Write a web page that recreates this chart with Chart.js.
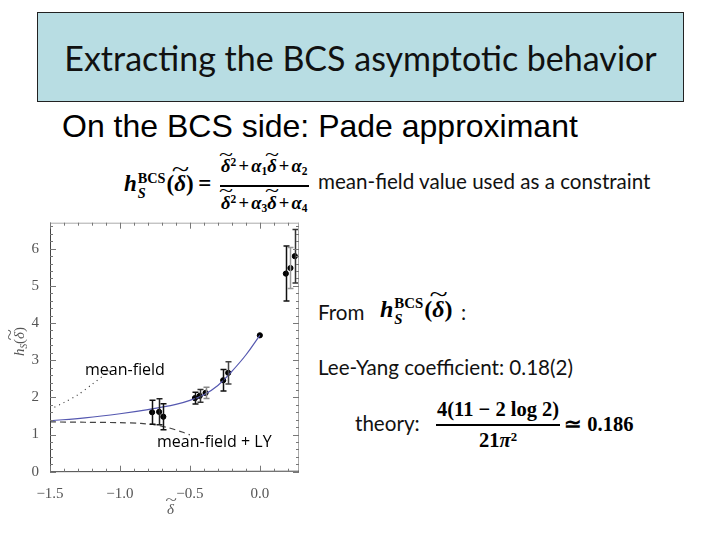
<!DOCTYPE html>
<html lang="en">
<head>
<meta charset="UTF-8">
<title>Extracting the BCS asymptotic behavior</title>
<script src="https://cdn.jsdelivr.net/npm/chart.js"></script>
<style>
  body { margin: 0; background: #fff; }
  .slide { position: relative; width: 720px; height: 540px; overflow: hidden; background: #fff; }
  .titlebox { position: absolute; left: 37px; top: 12px; width: 645px; height: 88px;
    background: #b8dde3; border: 1.5px solid #222; display: flex; align-items: center; justify-content: center;
    font-family: Lato, sans-serif; font-size: 34px; color: #111; }
  .sub { position: absolute; left: 62px; top: 108px; font-family: "Liberation Sans", Arial, sans-serif; font-size: 32px; color: #000; white-space: nowrap; }
  .txt { position: absolute; font-family: Lato, sans-serif; font-size: 20.6px; color: #111; line-height: 1; white-space: nowrap; }
  .lbl { position: absolute; font-family: "Open Sans", sans-serif; font-size: 16px; color: #000; line-height: 1; white-space: nowrap; }
  .m { font-family: "Liberation Serif", serif; font-weight: bold; color: #000; white-space: nowrap; line-height: 1; }
  .m i { font-style: italic; }
  .eq { position: absolute; display: flex; align-items: center; }
  .frac { display: inline-flex; flex-direction: column; align-items: center; margin: 0 4px; }
  .frac .num { border-bottom: 2px solid #000; padding: 0 1px 7px; }
  .frac .den { padding: 7px 1px 0; }
  .op { margin: 0 0.12em; }
  .td { position: relative; display: inline-block; font-style: italic; }
  .td .tl { position: absolute; left: 0; right: 0; top: -0.62em; text-align: center; font-style: normal; font-weight: normal; transform: scaleX(1.4); }
  .ss { display: inline-flex; flex-direction: column; font-size: 62%; line-height: 1.05; vertical-align: middle; margin: 0 1px; }
  .ss .dn { font-style: italic; }
  .sb { font-size: 62%; vertical-align: -0.3em; }
  .sp { font-size: 62%; vertical-align: 0.5em; }
  #chartWrap { position: absolute; left: 0; top: 0; width: 720px; height: 540px; }
  .axt { position: absolute; font-family: "Liberation Serif", serif; color: #555; font-size: 15px; white-space: nowrap; line-height: 1; }
</style>
</head>
<body>
<div class="slide">
  <div class="titlebox">Extracting the BCS asymptotic behavior</div>
  <div class="sub">On the BCS side: Pade approximant</div>

  <div class="eq m" style="left:124px; top:157px; font-size:18.5px;">
    <span style="font-size:23px"><i>h</i><span class="ss"><span>BCS</span><span class="dn">S</span></span>(<span class="td">δ<span class="tl">~</span></span>)<span class="op" style="margin:0 0.2em">=</span></span>
    <span class="frac">
      <span class="num"><span class="td">δ<span class="tl">~</span></span><span class="sp">2</span><span class="op">+</span><i>α</i><span class="sb">1</span><span class="td">δ<span class="tl">~</span></span><span class="op">+</span><i>α</i><span class="sb">2</span></span>
      <span class="den"><span class="td">δ<span class="tl">~</span></span><span class="sp">2</span><span class="op">+</span><i>α</i><span class="sb">3</span><span class="td">δ<span class="tl">~</span></span><span class="op">+</span><i>α</i><span class="sb">4</span></span>
    </span>
  </div>
  <div class="txt" style="left:318px; top:171px;">mean-field value used as a constraint</div>

  <div class="txt" style="left:318px; top:302px;">From</div>
  <div class="eq m" style="left:380px; top:296px; font-size:24px;">
    <span><i>h</i><span class="ss"><span>BCS</span><span class="dn">S</span></span>(<span class="td">δ<span class="tl">~</span></span>)</span>
  </div>
  <div class="txt" style="left:461px; top:302px;">:</div>

  <div class="txt" style="left:318px; top:357px;">Lee-Yang coefficient: 0.18(2)</div>

  <div class="txt" style="left:355px; top:413px;">theory:</div>
  <div class="eq m" style="left:432px; top:399px; font-size:20.5px;">
    <span class="frac"><span class="num" style="padding-bottom:4px">4(11 − 2 log 2)</span><span class="den" style="padding-top:4px">21<i>π</i><span class="sp">2</span></span></span>
    <span>≃ 0.186</span>
  </div>

  <div id="chartWrap"><canvas id="grafico" width="720" height="540"></canvas></div>

  <div class="lbl" style="left:85px; top:361px;">mean-field</div>
  <div class="lbl" style="left:157px; top:433px;">mean-field + LY</div>
  <div class="axt" style="left:6px; top:333px; transform: rotate(-90deg);"><i>h</i><span class="sb"><i>S</i></span>(<span class="td">δ<span class="tl">~</span></span>)</div>
  <div class="axt" style="left:167px; top:502px;"><span class="td">δ<span class="tl">~</span></span></div>
</div>

<script>
  // data
  const pointsX = [-0.77, -0.72, -0.69, -0.464, -0.43, -0.388, -0.262, -0.226, 0.0, 0.186, 0.219, 0.25];
  const pointsY = [1.60, 1.61, 1.48, 1.98, 2.04, 2.12, 2.46, 2.66, 3.67, 5.33, 5.48, 5.80];
  const pointsErr = [0.32, 0.35, 0.35, 0.16, 0.17, 0.15, 0.29, 0.30, 0, 0.74, 0.55, 0.72];
  const errColor = ['#111', '#222', '#111', '#111', '#333', '#888', '#111', '#444', '#111', '#111', '#999', '#333'];

  const padeX = [-1.5, -1.25, -1.0, -0.8, -0.6, -0.5, -0.4, -0.3, -0.2, -0.1, 0.0];
  const padeY = [1.37, 1.45, 1.56, 1.67, 1.81, 1.92, 2.07, 2.32, 2.70, 3.14, 3.67];

  const mfX = [-1.5, -1.4, -1.3, -1.2, -1.1, -1.07];
  const mfY = [1.68, 1.86, 2.07, 2.35, 2.64, 2.74];

  const lyX = [-1.5, -1.25, -1.0, -0.85, -0.75, -0.65, -0.55, -0.5];
  const lyY = [1.34, 1.33, 1.32, 1.30, 1.26, 1.18, 1.06, 0.99];

  const xTicks = [-1.5, -1.0, -0.5, 0.0];
  const yTicks = [0, 1, 2, 3, 4, 5, 6];

  function pares(xs, ys) {
    return xs.map((v, i) => ({ x: v, y: ys[i] }));
  }

  const moldura = {
    id: 'moldura',
    afterDraw(chart) {
      const { ctx, chartArea: a, scales: { x, y } } = chart;
      ctx.save();
      ctx.lineWidth = 1;
      ctx.strokeStyle = '#aaa';
      ctx.beginPath();
      ctx.moveTo(a.left, a.top + 0.5); ctx.lineTo(a.right, a.top + 0.5);
      ctx.moveTo(a.right - 0.5, a.top); ctx.lineTo(a.right - 0.5, a.bottom);
      ctx.stroke();
      ctx.strokeStyle = '#444';
      ctx.beginPath();
      ctx.moveTo(a.left + 0.5, a.top); ctx.lineTo(a.left + 0.5, a.bottom);
      ctx.lineTo(a.right, a.bottom - 0.5);
      ctx.stroke();
      // ticks pointing inward
      ctx.strokeStyle = '#777';
      ctx.beginPath();
      for (let k = -15; k <= 2; k++) {
        const px = Math.round(x.getPixelForValue(k / 10)) + 0.5;
        const len = (k % 5 === 0) ? 6 : 3;
        ctx.moveTo(px, a.bottom); ctx.lineTo(px, a.bottom - len);
        ctx.moveTo(px, a.top); ctx.lineTo(px, a.top + len);
      }
      for (let k = 0; k <= 33; k++) {
        const py = Math.round(y.getPixelForValue(k / 5)) + 0.5;
        const len = (k % 5 === 0) ? 6 : 3;
        ctx.moveTo(a.left, py); ctx.lineTo(a.left + len, py);
        ctx.moveTo(a.right, py); ctx.lineTo(a.right - len, py);
      }
      ctx.stroke();
      ctx.restore();
    }
  };

  const barrasErro = {
    id: 'barrasErro',
    afterDatasetsDraw(chart) {
      const { ctx, scales: { x, y } } = chart;
      ctx.save();
      ctx.lineWidth = 1.5;
      pointsX.forEach((v, i) => {
        if (!pointsErr[i]) return;
        const px = Math.round(x.getPixelForValue(v)) + 0.5;
        const top = y.getPixelForValue(pointsY[i] + pointsErr[i]);
        const bot = y.getPixelForValue(pointsY[i] - pointsErr[i]);
        ctx.strokeStyle = errColor[i];
        ctx.beginPath();
        ctx.moveTo(px, top); ctx.lineTo(px, bot);
        ctx.moveTo(px - 3, top); ctx.lineTo(px + 3, top);
        ctx.moveTo(px - 3, bot); ctx.lineTo(px + 3, bot);
        ctx.stroke();
      });
      ctx.restore();
    }
  };

  const config = {
    type: 'scatter',
    data: {
      datasets: [
        { data: pares(padeX, padeY), showLine: true, borderColor: '#5558b0', borderWidth: 1.2, pointRadius: 0, tension: 0.4 },
        { data: pares(mfX, mfY), showLine: true, borderColor: '#333', borderWidth: 1.2, borderDash: [1, 4], pointRadius: 0, tension: 0.3 },
        { data: pares(lyX, lyY), showLine: true, borderColor: '#444', borderWidth: 1.2, borderDash: [6, 4], pointRadius: 0, tension: 0.3 },
        { data: pares(pointsX, pointsY), showLine: false, pointRadius: 2.6, pointBackgroundColor: '#000', pointBorderColor: '#000' }
      ]
    },
    options: {
      responsive: false,
      animation: false,
      layout: { padding: { left: 0, top: 222.7, right: 421, bottom: 40 } },
      plugins: { legend: { display: false }, tooltip: { enabled: false } },
      scales: {
        x: {
          type: 'linear', min: -1.5, max: 0.28,
          afterFit: (s) => { s.height = 28.3; },
          afterBuildTicks: (s) => { s.ticks = xTicks.map(v => ({ value: v })); },
          grid: { display: false }, border: { display: false },
          ticks: { padding: 5, color: '#555', font: { family: 'Liberation Serif', size: 15 },
            callback: (v) => (v < 0 ? '\u2212' : '') + Math.abs(v).toFixed(1) }
        },
        y: {
          type: 'linear', min: 0, max: 6.7,
          afterFit: (s) => { s.width = 50; },
          afterBuildTicks: (s) => { s.ticks = yTicks.map(v => ({ value: v })); },
          grid: { display: false }, border: { display: false },
          ticks: { padding: 3, color: '#555', font: { family: 'Liberation Serif', size: 15 } }
        }
      }
    },
    plugins: [moldura, barrasErro]
  };

  new Chart(document.getElementById('grafico'), config);
</script>
</body>
</html>
